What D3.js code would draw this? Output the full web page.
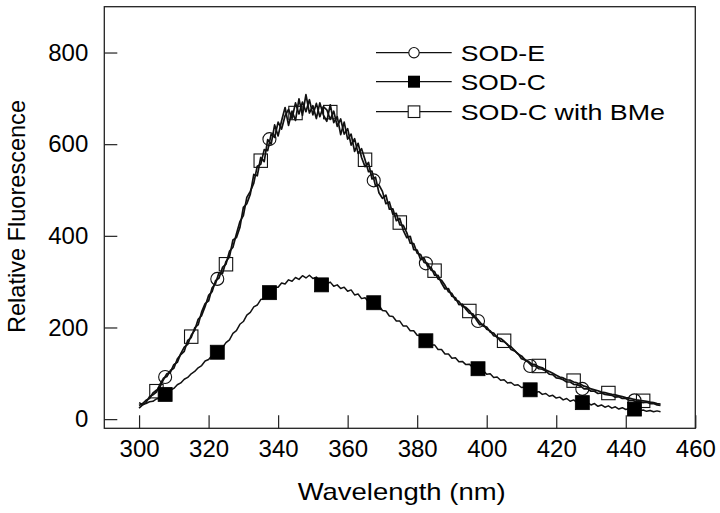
<!DOCTYPE html>
<html>
<head>
<meta charset="utf-8">
<script src="https://cdn.jsdelivr.net/npm/d3@7"></script>
<style>
  html, body { margin: 0; padding: 0; background: #fff; }
  svg { display: block; }
  text { font-family: "Liberation Sans", Arial, Helvetica, sans-serif; fill: #000; }
</style>
</head>
<body>
<svg id="chart" width="720" height="513"></svg>
<script>
// ---- Data ----
const seriesNames = ["SOD-E", "SOD-C", "SOD-C with BMe"];
const xTicks = [300, 320, 340, 360, 380, 400, 420, 440, 460];
const yTicks = [0, 200, 400, 600, 800];
const xTitle = "Wavelength (nm)";
const yTitle = "Relative Fluorescence";

// spectra sampled every 1 nm from 300 to 450 nm
const specStart = 300;
const specStep = 1;

const sodE = [
  24,31,36,49,53,59,76,89,93,106,
  111,131,141,148,172,178,199,206,234,252,
  258,286,296,320,318,344,354,391,396,418,
  462,470,491,534,531,571,562,610,600,642,
  618,651,680,641,672,652,699,663,708,668,
  684,656,690,664,650,686,647,660,621,648,
  611,622,584,602,571,551,560,524,528,494,
  482,489,458,459,433,438,412,396,399,370,
  369,348,351,333,331,314,314,297,284,285,
  268,265,250,251,240,231,230,217,206,207,
  196,193,182,180,170,169,163,152,149,143,
  132,129,124,116,116,110,109,105,98,97,
  90,89,86,81,81,76,75,72,66,66,
  61,61,56,57,54,53,52,48,49,45,
  45,41,41,38,38,36,37,34,34,31,
  30];

const sodC = [
  36,32,34,38,39,44,46,53,56,63,
  67,75,79,87,91,99,104,112,117,127,
  130,139,143,151,156,167,173,187,193,207,
  213,227,233,245,249,261,263,275,277,288,
  288,297,295,304,301,309,305,313,308,314,
  307,310,300,303,295,299,290,293,285,288,
  279,282,271,273,263,265,256,258,248,248,
  237,236,225,224,214,214,203,203,193,193,
  183,182,172,172,162,162,152,152,142,142,
  133,134,125,126,119,120,113,114,106,106,
  98,99,91,92,85,86,79,80,74,75,
  69,70,63,64,58,60,54,56,50,52,
  46,48,42,45,39,42,36,39,33,36,
  31,34,28,31,26,29,24,27,22,25,
  21,23,19,22,18,20,17,19,16,18,
  16];

const sodCBMe = [
  30,34,41,45,57,63,70,86,99,102,
  119,124,143,157,163,183,194,218,226,246,
  270,278,302,308,331,338,366,375,404,431,
  444,484,497,515,552,556,588,586,622,615,
  648,633,662,676,656,690,666,692,671,697,
  664,689,660,682,675,654,672,639,655,622,
  634,598,612,580,590,566,540,541,509,511,
  497,470,474,447,449,424,423,407,384,383,
  362,359,342,340,325,322,306,303,292,278,
  274,260,257,246,244,237,225,221,212,203,
  201,190,188,178,176,170,162,158,150,142,
  138,130,126,120,119,114,112,107,104,100,
  96,92,90,86,85,81,79,76,72,70,
  66,64,62,59,58,56,54,53,51,49,
  47,46,44,42,41,40,39,37,36,34,
  33];

// marker positions
const markE_x = [307.5, 322.5, 337.5, 367.5, 382.5, 397.5, 412.5, 427.5, 442.5];
const markE_y = [92, 306, 611, 521, 340, 214, 116, 66, 41];
const markC_x = [307.5, 322.5, 337.5, 352.5, 367.5, 382.5, 397.5, 412.5, 427.5, 442.5];
const markC_y = [54, 146, 276, 293, 254, 171, 110, 64, 36, 22];
const markB_x = [305, 315, 325, 335, 345, 355, 365, 375, 385, 395, 405, 415, 425, 435, 445];
const markB_y = [61, 180, 338, 564, 668, 670, 566, 429, 324, 236, 171, 116, 84, 57, 40];

// ---- Layout ----
const padL = 104.3, padR = 695.3, padT = 6.7, padB = 428.3;
const svg = d3.select("#chart");

const x = d3.scaleLinear().domain([290, 460]).range([padL, padR]);
const y = d3.scaleLinear().domain([-20, 900]).range([padB, padT]);

const toPts = arr => arr.map((v, i) => [specStart + i * specStep, v]);
const line = d3.line().x(d => x(d[0])).y(d => y(d[1]));

// curves
const curveG = svg.append("g").attr("fill", "none").attr("stroke", "#111")
  .attr("stroke-linejoin", "round");
[sodCBMe, sodE].forEach(arr => {
  curveG.append("path").attr("d", line(toPts(arr))).attr("stroke-width", 1.7);
});
curveG.append("path").attr("d", line(toPts(sodC))).attr("stroke-width", 1.5);

// markers
const mk = svg.append("g");
mk.selectAll("circle.e").data(markE_x.map((v, i) => [v, markE_y[i]])).join("circle")
  .attr("cx", d => x(d[0])).attr("cy", d => y(d[1])).attr("r", 6.5)
  .attr("fill", "none").attr("stroke", "#111").attr("stroke-width", 1.1);
mk.selectAll("rect.b").data(markB_x.map((v, i) => [v, markB_y[i]])).join("rect")
  .attr("x", d => x(d[0]) - 6.7).attr("y", d => y(d[1]) - 6.7)
  .attr("width", 13.4).attr("height", 13.4)
  .attr("fill", "none").attr("stroke", "#111").attr("stroke-width", 1.1);
mk.selectAll("rect.c").data(markC_x.map((v, i) => [v, markC_y[i]])).join("rect")
  .attr("x", d => x(d[0]) - 7).attr("y", d => y(d[1]) - 7)
  .attr("width", 14).attr("height", 14)
  .attr("fill", "#000").attr("stroke", "#000").attr("stroke-width", 0.8);

// frame
svg.append("rect").attr("x", padL).attr("y", padT)
  .attr("width", padR - padL).attr("height", padB - padT)
  .attr("fill", "none").attr("stroke", "#222").attr("stroke-width", 1.3);

// axes (inward ticks)
const xAxis = d3.axisBottom(x).tickValues(xTicks).tickSizeInner(-13).tickSizeOuter(0)
  .tickPadding(12).tickFormat(d3.format("d"));
const gx = svg.append("g").attr("transform", `translate(0,${padB})`).call(xAxis);
gx.select(".domain").remove();
gx.selectAll("line").attr("stroke", "#222").attr("stroke-width", 1.2);
gx.selectAll("text").attr("font-size", 24).attr("font-family", "Liberation Sans, Arial, sans-serif").attr("fill", "#000");

const yAxis = d3.axisLeft(y).tickValues(yTicks).tickSizeInner(-13).tickSizeOuter(0)
  .tickPadding(16).tickFormat(d3.format("d"));
const gy = svg.append("g").attr("transform", `translate(${padL},0)`).call(yAxis);
gy.select(".domain").remove();
gy.selectAll("line").attr("stroke", "#222").attr("stroke-width", 1.2);
gy.selectAll("text").attr("font-size", 24).attr("font-family", "Liberation Sans, Arial, sans-serif").attr("fill", "#000");

// axis titles
svg.append("text").attr("x", 401.7).attr("y", 500).attr("text-anchor", "middle")
  .attr("font-size", 24).attr("textLength", 208).attr("lengthAdjust", "spacingAndGlyphs")
  .text(xTitle);
svg.append("text").attr("transform", "translate(25,216.5) rotate(-90)")
  .attr("text-anchor", "middle").attr("font-size", 24)
  .attr("textLength", 233).attr("lengthAdjust", "spacingAndGlyphs")
  .text(yTitle);

// legend
const legRowY = [52.7, 81.7, 111.7];
const legTextW = [84.3, 85, 204.3];
const leg = svg.append("g");
seriesNames.forEach((name, i) => {
  const cy = legRowY[i];
  leg.append("line").attr("x1", 376).attr("x2", 451.7).attr("y1", cy).attr("y2", cy)
    .attr("stroke", "#111").attr("stroke-width", 1.3);
  if (i === 0) {
    leg.append("circle").attr("cx", 414).attr("cy", cy).attr("r", 5.2)
      .attr("fill", "#fff").attr("stroke", "#111").attr("stroke-width", 1.1);
  } else if (i === 1) {
    leg.append("rect").attr("x", 414 - 6).attr("y", cy - 6).attr("width", 12).attr("height", 12)
      .attr("fill", "#000");
  } else {
    leg.append("rect").attr("x", 414 - 5.8).attr("y", cy - 5.8).attr("width", 11.6).attr("height", 11.6)
      .attr("fill", "#fff").attr("stroke", "#111").attr("stroke-width", 1.1);
  }
  leg.append("text").attr("x", 460.7).attr("y", cy + 8).attr("font-size", 22)
    .attr("textLength", legTextW[i]).attr("lengthAdjust", "spacingAndGlyphs")
    .text(name);
});
</script>
</body>
</html>
